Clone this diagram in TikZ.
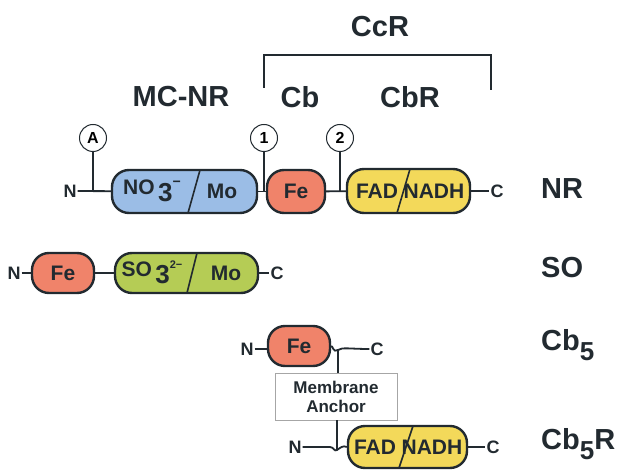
\documentclass[tikz,border=0pt]{standalone}
\usepackage{fontspec}
\setmainfont{Liberation Sans}
\definecolor{bluefill}{HTML}{9BBDE6}
\definecolor{redfill}{HTML}{F0836A}
\definecolor{yelfill}{HTML}{F3D95A}
\definecolor{grnfill}{HTML}{B5CC55}
\definecolor{ink}{HTML}{222A30}
\newcommand{\subfive}{\raisebox{-10pt}{\fontsize{26}{26}\selectfont 5}}
\begin{document}
\begin{tikzpicture}[x=1pt,y=-1pt,
 dom/.style={draw=ink, line width=2.4pt, rounded corners=17pt, inner sep=0pt},
 conn/.style={line width=1.8pt, draw=ink},
 lab/.style={font=\fontsize{29}{33}\selectfont\bfseries, text=ink, inner sep=0pt},
 term/.style={font=\fontsize{18}{20}\selectfont\bfseries, text=ink, inner sep=1pt},
 dtext/.style={font=\fontsize{21}{24}\selectfont\bfseries, text=ink, inner sep=0pt},
 site/.style={circle, draw=ink, line width=1pt, fill=white, minimum size=27pt, inner sep=0pt, font=\fontsize{16}{17}\selectfont\bfseries}]
\useasboundingbox[fill=white] (0,0) rectangle (621,470);

% header
\node[lab] (ccr) at (380,27) {CcR};
\coordinate (bl) at (264,88);
\coordinate (br) at (491,90);
\draw[conn] (bl) |- (380,55) -| (br);
\node[lab] (mcnr) at (181,97) {MC-NR};
\node[lab] (cb) at (300,97) {Cb};
\node[lab] (cbr) at (410,97) {CbR};

% NR row
\node[term] (nrN) at (70,191) {N};
\node[dom, fill=bluefill, minimum width=145pt, minimum height=43pt] (no3) at (184.5,191.5) {};
\draw[ink, line width=1.6pt] (200,170) -- (188,213);
\node[dtext] (no3t) at (152,191) {NO\,\raisebox{-7pt}{\fontsize{26}{26}\selectfont 3}\raisebox{8pt}{\fontsize{14}{14}\selectfont −}};
\node[dtext] (no3mo) at (222,191) {Mo};
\node[dom, fill=redfill, minimum width=58pt, minimum height=43pt] (fe1) at (296,191.5) {};
\node[dtext] (fe1t) at (296,191) {Fe};
\node[dom, fill=yelfill, minimum width=123pt, minimum height=44pt] (fad1) at (408.5,191) {};
\draw[ink, line width=1.6pt] (410,169) -- (397,213);
\node[dtext] (fad1a) at (377,191) {FAD};
\node[dtext] (fad1b) at (434,191) {NADH};
\node[term] (nrC) at (497,191) {C};
\node[lab, anchor=west] (nrlab) at (541,189) {NR};
\draw[conn] (nrN) -- (no3);
\draw[conn] (no3) -- (fe1);
\draw[conn] (fe1) -- (fad1);
\draw[conn] (fad1) -- (nrC);
\node[site] (sA) at (93,138) {A};
\node[site] (s1) at (264,138) {1};
\node[site] (s2) at (340,138) {2};
\coordinate (jA) at (93,191);
\coordinate (j1) at (264,191);
\coordinate (j2) at (340,191);
\draw[conn, line width=1.3pt] (sA) -- (jA);
\draw[conn, line width=1.3pt] (s1) -- (j1);
\draw[conn, line width=1.3pt] (s2) -- (j2);

% SO row
\node[term] (soN) at (14,273) {N};
\node[dom, fill=redfill, minimum width=62pt, minimum height=40pt] (fe2) at (63,273) {};
\node[dtext] (fe2t) at (63,273) {Fe};
\node[dom, fill=grnfill, minimum width=143pt, minimum height=40pt] (so3) at (186.5,273) {};
\draw[ink, line width=1.6pt] (197,253) -- (187,293);
\node[dtext] (so3t) at (152,272) {SO\,\raisebox{-7pt}{\fontsize{26}{26}\selectfont 3}\raisebox{8pt}{\fontsize{11}{11}\selectfont 2−}};
\node[dtext] (so3mo) at (226,273) {Mo};
\node[term] (soC) at (277,273) {C};
\node[lab, anchor=west] (solab) at (541,268) {SO};
\draw[conn] (soN) -- (fe2);
\draw[conn] (fe2) -- (so3);
\draw[conn] (so3) -- (soC);

% Cb5 row
\node[term] (c5N) at (247,349) {N};
\node[dom, fill=redfill, minimum width=62pt, minimum height=40pt] (fe3) at (299,346) {};
\node[dtext] (fe3t) at (299,346) {Fe};
\node[term] (c5C) at (377,349) {C};
\coordinate (w1) at (338,350);
\draw[conn] (c5N) -- (fe3.west |- c5N);
\draw[conn] (fe3.east) .. controls (333,346) and (333,353) .. (w1) .. controls (342,347) and (350,349) .. (c5C.west);
\node[lab, anchor=west] (c5lab) at (541,345) {Cb\subfive};
\node[draw=gray!70, line width=0.7pt, fill=white, minimum width=122pt, minimum height=47pt, align=center, inner sep=0pt,
 font=\fontsize{17}{19}\selectfont\bfseries, text=ink] (anch) at (336,396.5) {Membrane\\Anchor};
\draw[conn, line width=1.3pt] (w1) -- (w1 |- anch.north);

% Cb5R row
\node[term] (c5rN) at (295,447) {N};
\node[dom, fill=yelfill, minimum width=119pt, minimum height=42pt] (fad2) at (407.5,447) {};
\draw[ink, line width=1.6pt] (413,426) -- (399,468);
\node[dtext] (fad2a) at (375,447) {FAD};
\node[dtext] (fad2b) at (432,447) {NADH};
\node[term] (c5rC) at (493,447) {C};
\coordinate (w2) at (337,450);
\draw[conn] (c5rN.east) -- (330,447) .. controls (334,447) and (334,452) .. (w2) .. controls (340,448) and (343,445) .. (fad2.west);
\draw[conn] (fad2) -- (c5rC);
\draw[conn, line width=1.3pt] (anch.south -| w2) -- (w2);
\node[lab, anchor=west] (c5rlab) at (541,444) {Cb\subfive R};
\end{tikzpicture}
\end{document}
